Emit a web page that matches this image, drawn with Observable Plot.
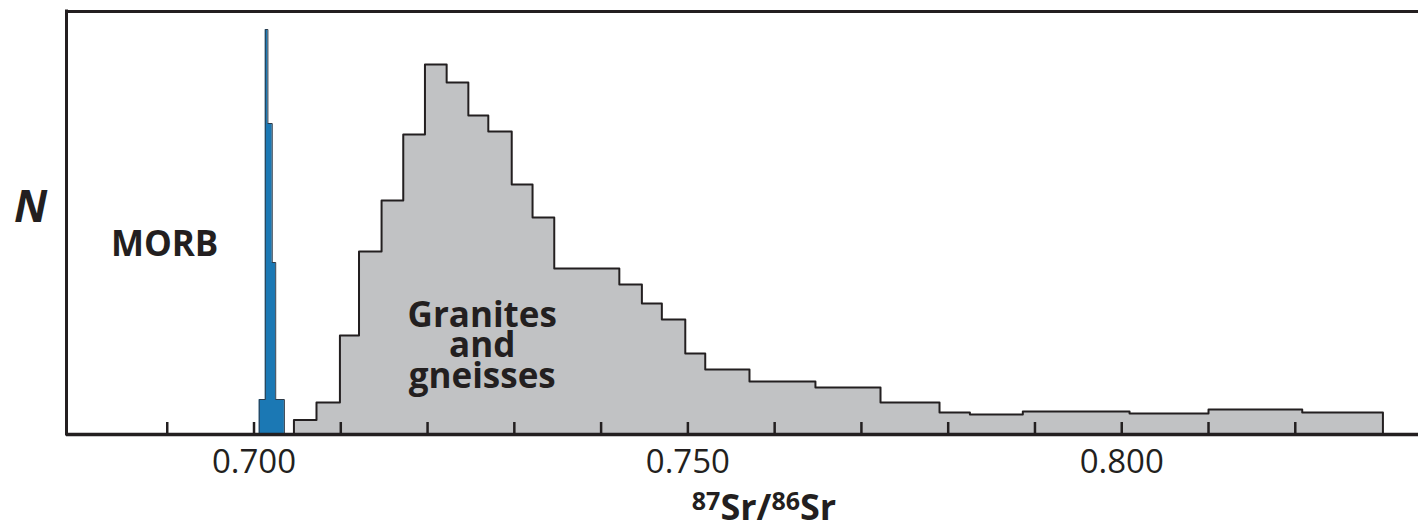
<!DOCTYPE html>
<html><head><meta charset="utf-8">
<script src="https://cdn.jsdelivr.net/npm/d3@7"></script>
<script src="https://cdn.jsdelivr.net/npm/@observablehq/plot@0.6"></script>
<style>html,body{margin:0;padding:0;background:#fff;} #chart svg{display:block}</style>
</head><body><div id="chart"></div>
<script>
// Granites and gneisses histogram: bin edges (87Sr/86Sr) and relative counts N
const graniteEdges = [0.7046, 0.7072, 0.7099, 0.7121, 0.7147, 0.7172, 0.7197, 0.7222, 0.7247, 0.7270,
  0.7297, 0.7321, 0.7346, 0.7421, 0.7447, 0.7470, 0.7497, 0.7520, 0.7571, 0.7647, 0.7722, 0.7790,
  0.7825, 0.7886, 0.8009, 0.8100, 0.8208, 0.8301];
const graniteN = [14.5, 32, 99, 183, 234, 300, 370, 352, 319, 303, 250, 217, 166, 150, 131, 115,
  81, 65, 53, 47, 32, 22, 20, 23, 21, 25, 22];
// MORB histogram
const morbEdges = [0.7006, 0.7013, 0.7016, 0.7021, 0.7025, 0.7035];
const morbN = [35, 405, 311, 172, 35];
// axis
const tickValues = [0.69, 0.70, 0.71, 0.72, 0.73, 0.74, 0.75, 0.76, 0.77, 0.78, 0.79, 0.80, 0.81, 0.82];
const tickLabels = [0.700, 0.750, 0.800];
const xDomain = [0.67839, 0.83420];
const yDomain = [0, 423];

const ink = "#231f20";
function stepPoints(edges, n) {
  const pts = edges.slice(0, -1).map((x, i) => ({x, y: n[i]}));
  pts.push({x: edges[edges.length - 1], y: n[n.length - 1]});
  return pts;
}
function outline(edges, n) {
  return [{x: edges[0], y: 0}, ...stepPoints(edges, n), {x: edges[edges.length - 1], y: 0}];
}

const chart = Plot.plot({
  width: 1418, height: 531,
  marginLeft: 66, marginRight: 0, marginTop: 11, marginBottom: 97,
  style: {fontFamily: "'Open Sans', sans-serif", background: "#fff", color: ink},
  x: {domain: xDomain, axis: null},
  y: {domain: yDomain, axis: null},
  marks: [
    Plot.areaY(stepPoints(graniteEdges, graniteN), {x: "x", y: "y", curve: "step-after", fill: "#c1c2c4"}),
    Plot.lineY(outline(graniteEdges, graniteN), {x: "x", y: "y", curve: "step-after", stroke: ink, strokeWidth: 2}),
    Plot.areaY(stepPoints(morbEdges, morbN), {x: "x", y: "y", curve: "step-after", fill: "#1b78b4"}),
    Plot.lineY(outline(morbEdges, morbN), {x: "x", y: "y", curve: "step-after", stroke: "#2c3a48", strokeWidth: 1}),
    Plot.ruleX(tickValues, {stroke: ink, strokeWidth: 2.5, insetTop: 411}),
    Plot.ruleY([yDomain[1]], {stroke: ink, strokeWidth: 3}),
    Plot.ruleY([0], {stroke: ink, strokeWidth: 3.5}),
    Plot.ruleX([xDomain[0]], {stroke: ink, strokeWidth: 3, strokeLinecap: "square"}),
    Plot.axisX({ticks: tickLabels, tickSize: 0, tickPadding: 15, fontSize: 33, tickFormat: d3.format(".3f"), fill: ink, label: null}),
    Plot.text(["MORB"], {x: 0.6897, y: 190, text: d => d, fontSize: 35, fontWeight: "bold", fill: ink, lineAnchor: "middle"}),
    Plot.text(["Granites\nand\ngneisses"], {x: 0.7263, y: 87, text: d => d, fontSize: 35, fontWeight: "bold", fill: ink, lineAnchor: "middle", lineHeight: 0.87}),
    Plot.text(["N"], {frameAnchor: "left", y: 227, dx: -36, text: d => d, textAnchor: "middle", fontSize: 44, fontWeight: "bold", fontStyle: "italic", fill: ink, lineAnchor: "middle"})
  ]
});
document.getElementById("chart").appendChild(chart);

// axis title with superscripts
const svg = d3.select(chart);
const t = svg.append("text")
  .attr("x", 764).attr("y", 520)
  .attr("text-anchor", "middle")
  .attr("font-family", "'Open Sans', sans-serif")
  .attr("font-weight", "bold")
  .attr("fill", ink);
t.append("tspan").attr("font-size", 25).attr("dy", -10).text("87");
t.append("tspan").attr("font-size", 36).attr("dy", 10).text("Sr/");
t.append("tspan").attr("font-size", 25).attr("dy", -10).text("86");
t.append("tspan").attr("font-size", 36).attr("dy", 10).text("Sr");
</script>
</body></html>
